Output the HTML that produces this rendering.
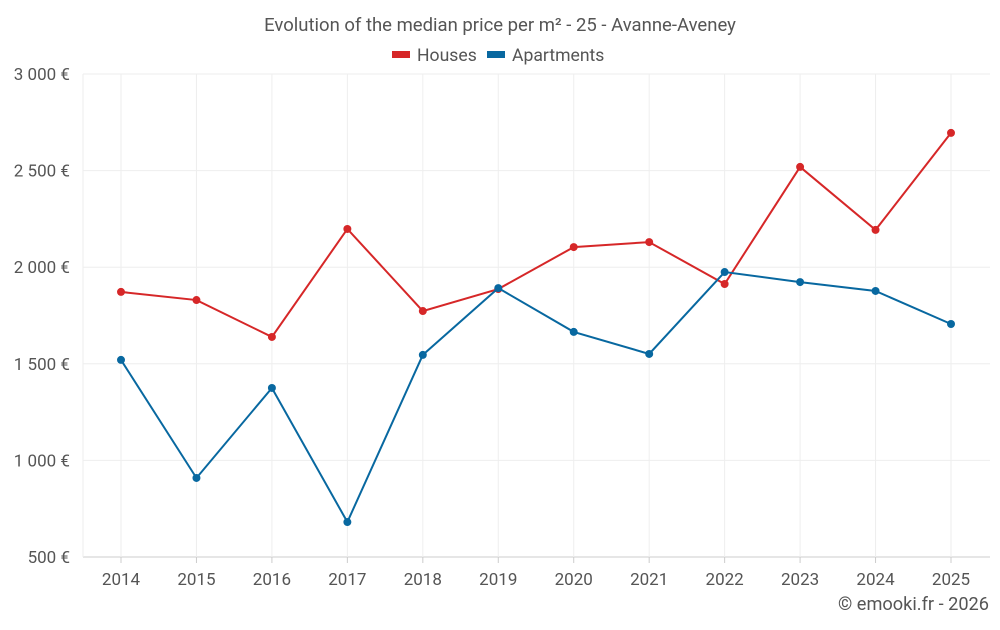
<!DOCTYPE html>
<html><head><meta charset="utf-8"><style>
body{margin:0;background:#fff;font-family:"Liberation Sans",sans-serif}
svg text{font-family:"Roboto","Liberation Sans",sans-serif}
</style></head><body>
<svg id="chart" width="1000" height="625">
<text x="500" y="31" text-anchor="middle" font-size="18.5" fill="#555">Evolution of the median price per m² - 25 - Avanne-Aveney</text>
<g>
<rect x="392" y="51" width="18" height="7" fill="#d62728"/>
<text x="417" y="61" font-size="17.6" fill="#555">Houses</text>
<rect x="487" y="51" width="18" height="7" fill="#0868a0"/>
<text x="512" y="61" font-size="17.6" fill="#555">Apartments</text>
</g>
<g id="grid"></g><g id="axes"></g><g id="series"></g>
<text x="989" y="610" text-anchor="end" font-size="18.2" fill="#555">© emooki.fr - 2026</text>
</svg>
<script>
const years=[2014,2015,2016,2017,2018,2019,2020,2021,2022,2023,2024,2025];
const houses=[1872,1830,1639,2198,1773,1887,2104,2130,1913,2519,2193,2695];
const apartments=[1520,909,1375,681,1546,1892,1665,1551,1975,1923,1877,1706];
const yTicks=[500,1000,1500,2000,2500,3000];
const yTickLabels=["500 €","1 000 €","1 500 €","2 000 €","2 500 €","3 000 €"];
const NS="http://www.w3.org/2000/svg";
const L=83,R=990,T=74,B=557;
const x=i=>121+i*(951-121)/(years.length-1);
const y=v=>B-(v-500)/2500*(B-T);
function mk(tag,attrs,parent){const e=document.createElementNS(NS,tag);for(const k in attrs)e.setAttribute(k,attrs[k]);document.getElementById(parent).appendChild(e);return e;}
yTicks.forEach((t,i)=>{
 const g=mk('line',{x1:L,x2:R,y1:y(t),y2:y(t),stroke:i==0?'#ccc':'#eee'},'grid');
 
 
 const tx=mk('text',{x:70,y:y(t)+6,'text-anchor':'end','font-size':17,fill:'#555'},'axes');
 tx.textContent=yTickLabels[i];
 
 
});
mk('line',{x1:L,x2:L,y1:T,y2:B,stroke:'#eee'},'grid');
years.forEach((yr,i)=>{
 const g=mk('line',{x1:x(i),x2:x(i),y1:T,y2:B,stroke:'#eee'},'grid');
 
 
 const tk=mk('line',{x1:x(i),x2:x(i),y1:B,y2:B+6,stroke:'#ccc'},'axes');
 
 
 const tx=mk('text',{x:x(i),y:585,'text-anchor':'middle','font-size':17,fill:'#555'},'axes');
 tx.textContent=yr;
 
 
});
function series(vals,color,name){
 const p=mk('polyline',{points:vals.map((v,i)=>x(i)+','+y(v)).join(' '),fill:'none',stroke:color,'stroke-width':2},'series');
 
 
 vals.forEach((v,i)=>{
  const c=mk('circle',{cx:x(i),cy:y(v),r:4,fill:color},'series');
  
  
 });
}
series(houses,'#d62728','houses');
series(apartments,'#0868a0','apartments');
</script>
</body></html>
